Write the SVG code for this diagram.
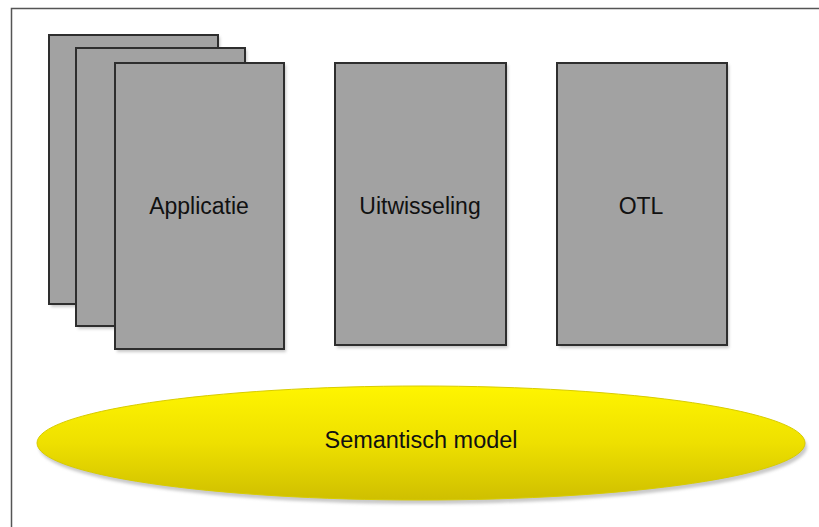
<svg xmlns="http://www.w3.org/2000/svg" width="819" height="527" viewBox="0 0 819 527">
  <defs>
    <linearGradient id="yellowFill" x1="0" y1="0" x2="0" y2="1">
      <stop offset="0" stop-color="#FFF500"/>
      <stop offset="0.5" stop-color="#EEE000"/>
      <stop offset="1" stop-color="#CFBF00"/>
    </linearGradient>
    <filter id="soft" x="-10%" y="-10%" width="120%" height="130%">
      <feGaussianBlur stdDeviation="1.5"/>
    </filter>
  </defs>
  <style>
    .box { fill: #A2A2A2; stroke: #2E2E2E; stroke-width: 2; }
    .shadow { fill: #C8C8C8; filter: url(#soft); }
    .label { font-family: "Liberation Sans", Arial, sans-serif; font-size: 23px; fill: #111; text-anchor: middle; }
    .frame { stroke: #555; stroke-width: 1.5; fill: none; }
  </style>

  <rect width="819" height="527" fill="#FFFFFF"/>
  <!-- page frame -->
  <path class="frame" d="M11.5 527 V8.5 H819"/>

  <!-- stacked application sheets -->
  <g id="applicatie">
    <rect class="shadow" x="51" y="37" width="169" height="270"/>
    <rect class="box" x="49" y="35" width="169" height="269"/>
    <rect class="shadow" x="78" y="50" width="169" height="279"/>
    <rect class="box" x="76" y="48" width="169" height="278"/>
    <rect class="shadow" x="117" y="65" width="169" height="287"/>
    <rect class="box" x="115" y="63" width="169" height="286"/>
    <text class="label" x="199" y="214">Applicatie</text>
  </g>

  <g id="uitwisseling">
    <rect class="shadow" x="337" y="65" width="171" height="283"/>
    <rect class="box" x="335" y="63" width="171" height="282"/>
    <text class="label" x="420" y="214">Uitwisseling</text>
  </g>

  <g id="otl">
    <rect class="shadow" x="559" y="65" width="170" height="283"/>
    <rect class="box" x="557" y="63" width="170" height="282"/>
    <text class="label" x="641" y="214">OTL</text>
  </g>

  <g id="semantisch-model">
    <ellipse cx="423" cy="447" rx="384" ry="57" fill="#C9C9C9" filter="url(#soft)"/>
    <ellipse cx="421" cy="443" rx="384" ry="57" fill="url(#yellowFill)" stroke="#D8CC00" stroke-width="1"/>
    <text class="label" x="421" y="448" font-size="22" textLength="193" lengthAdjust="spacingAndGlyphs">Semantisch model</text>
  </g>

  <g id="connectors"></g>
</svg>
